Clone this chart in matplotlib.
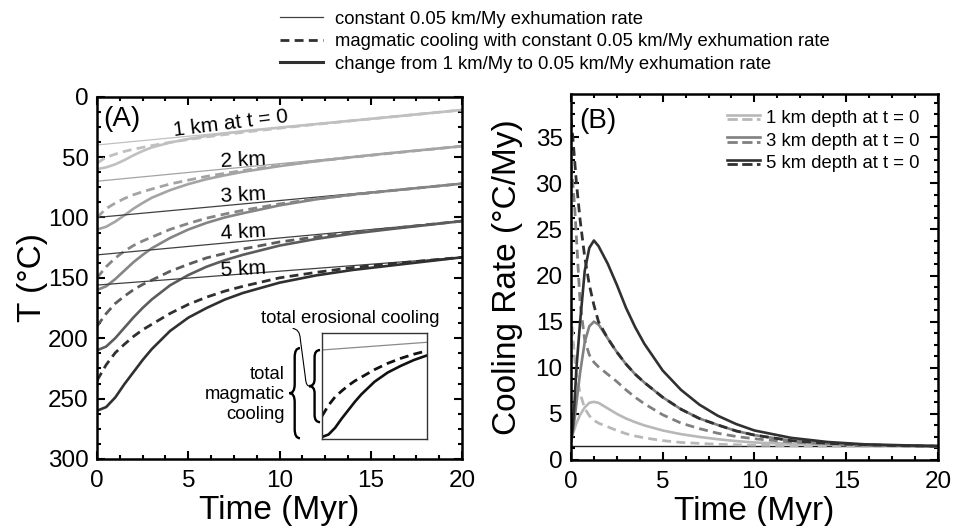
import matplotlib
matplotlib.use("Agg")
import matplotlib.pyplot as plt
from matplotlib.lines import Line2D
from matplotlib.path import Path
from matplotlib.patches import PathPatch
from matplotlib.ticker import MultipleLocator, AutoMinorLocator
from matplotlib.legend_handler import HandlerBase

plt.rcParams['font.family'] = ['Liberation Sans', 'DejaVu Sans']

# ---- panel A data: temperature (deg C) vs time (Myr) ----
t_thin = [0, 20]
thin = {1: [40, 11], 2: [70, 41], 3: [100, 72], 4: [131, 103], 5: [156, 133]}

t_a = [0, 0.5, 1, 1.5, 2, 2.5, 3, 4, 5, 6, 7, 8, 10, 12, 14, 16, 20]
solid = {
    1: [60, 58.5, 56, 52.5, 48.5, 45, 42, 38, 35, 32.5, 30.5, 28.6, 25.6, 22.7, 19.8, 16.9, 11],
    2: [110, 107.7, 103.4, 98.2, 92.7, 88, 83.7, 77.4, 72.4, 68.3, 65.1, 62.2, 57.5, 53.4, 50, 46.8, 41],
    3: [160, 157, 151, 144, 137, 131, 125.5, 117, 110, 104.5, 100, 96.5, 90, 85, 81, 78, 72],
    4: [210, 206.9, 199.9, 191.3, 182.7, 174.9, 167.9, 156.2, 147.7, 140.8, 135.4, 130.9, 123.3, 117.8, 113.4, 109.8, 103],
    5: [260, 257, 249, 238, 228, 218, 209, 194, 183, 175, 168, 162.5, 154, 148, 143.5, 140, 133],
}
dashed = {
    1: [55, 50.2, 47.6, 45.3, 43.5, 42, 40.5, 37.8, 35.5, 33.3, 31.4, 29.5, 26.1, 22.9, 19.9, 16.9, 11],
    2: [100, 92.7, 88.1, 84.3, 81.2, 78.7, 76.5, 72.3, 69.1, 66, 63.5, 61.1, 56.9, 53.4, 50.1, 47, 41],
    3: [150, 140.8, 133.6, 127.9, 123.2, 119.5, 116.3, 109.9, 105, 100.6, 97.2, 94.1, 88.8, 84.7, 81.2, 78, 72],
    4: [190, 179.6, 171.2, 165.2, 159.8, 155.5, 151.9, 144.6, 138.8, 133.5, 129.8, 126.1, 120.3, 116.1, 112.4, 109.2, 103],
    5: [235, 222, 212, 205, 198.5, 193, 188.5, 179.5, 172, 166, 161, 157, 150, 145.5, 141.5, 138.5, 133],
}
depth_colors = {1: '#c0c0c0', 2: '#a4a4a4', 3: '#858585', 4: '#5c5c5c', 5: '#303030'}
depth_labels = {1: '1 km at t = 0', 2: '2 km', 3: '3 km', 4: '4 km', 5: '5 km'}

# ---- panel B data: cooling rate (deg C/My) vs time (Myr) ----
t_b = [0, 0.1, 0.2, 0.3, 0.5, 0.75, 1, 1.25, 1.5, 2, 2.5, 3, 3.5, 4, 5, 6, 7, 8, 9, 10, 12, 14, 16, 18, 20]
rate_solid = {
    1: [2.3, 2.8, 3.4, 4, 4.9, 5.7, 6.2, 6.3, 6.2, 5.6, 5, 4.5, 4.1, 3.75, 3.2, 2.8, 2.5, 2.25, 2.05, 1.9, 1.75, 1.65, 1.6, 1.55, 1.5],
    3: [2, 3, 4.5, 6.2, 9.5, 12.8, 14.5, 15, 14.7, 13.2, 11.7, 10.4, 9.3, 8.4, 6.8, 5.5, 4.5, 3.8, 3.15, 2.7, 2.1, 1.8, 1.65, 1.55, 1.5],
    5: [2, 3.5, 6.5, 10, 15, 20.5, 23, 23.8, 23.2, 21.3, 19, 16.5, 14.4, 12.6, 9.7, 7.6, 6, 4.8, 3.9, 3.2, 2.4, 1.95, 1.7, 1.6, 1.5],
}
rate_dashed = {
    1: [16, 13.5, 11, 9.3, 7.2, 5.6, 4.8, 4.3, 4, 3.6, 3.2, 2.85, 2.6, 2.4, 2.1, 1.9, 1.8, 1.7, 1.65, 1.6, 1.55, 1.5, 1.5, 1.5, 1.5],
    3: [32, 30, 27.5, 24, 17, 13, 11.4, 10.6, 10.1, 9.3, 8.5, 7.6, 6.8, 6.1, 4.9, 4.0, 3.4, 2.9, 2.55, 2.3, 1.95, 1.75, 1.6, 1.55, 1.5],
    5: [37, 35, 32.5, 30, 26, 22, 19, 16.8, 15, 13.2, 11.7, 10.4, 9.3, 8.4, 6.8, 5.5, 4.5, 3.8, 3.15, 2.7, 2.1, 1.8, 1.65, 1.55, 1.5],
}
rate_const = 1.5
b_colors = {1: '#b8b8b8', 3: '#808080', 5: '#303030'}
b_labels = {1: '1 km depth at t = 0', 3: '3 km depth at t = 0', 5: '5 km depth at t = 0'}

DASH = (0, (3.2, 1.9))
FS = 13.3
LABEL_FS = 24


def style_axes(ax):
    ax.tick_params(which='both', direction='in', top=True, right=True, width=1.5, labelsize=17.5)
    ax.tick_params(axis='x', pad=8)
    ax.tick_params(axis='y', pad=6)
    ax.tick_params(which='major', length=6)
    ax.tick_params(which='minor', length=3)
    ax.xaxis.set_minor_locator(AutoMinorLocator(4))
    ax.yaxis.set_minor_locator(AutoMinorLocator(4))
    for s in ax.spines.values():
        s.set_linewidth(1.8)


def brace(ax, x_tip, x_end, y0, y1, lw=1.7):
    xm = (x_tip + x_end) / 2
    ym = (y0 + y1) / 2
    c = 0.1 * (y1 - y0)
    verts = [(x_end, y0), (xm, y0), (xm, y0 + c), (xm, ym - c),
             (xm, ym), (x_tip, ym), (xm, ym), (xm, ym + c),
             (xm, y1 - c), (xm, y1), (x_end, y1)]
    codes = [Path.MOVETO, Path.CURVE3, Path.CURVE3, Path.LINETO,
             Path.CURVE3, Path.CURVE3, Path.CURVE3, Path.CURVE3,
             Path.LINETO, Path.CURVE3, Path.CURVE3]
    ax.add_patch(PathPatch(Path(verts, codes), fill=False, lw=lw, color='k', clip_on=False))


class HandlerPair(HandlerBase):
    def create_artists(self, legend, orig_handle, xdescent, ydescent, width, height, fontsize, trans):
        out = []
        for i, h in enumerate(orig_handle):
            y = height / 2 - ydescent + (0.18 if i == 0 else -0.18) * height
            ln = Line2D([-xdescent, width - xdescent], [y, y], color=h.get_color(),
                        lw=h.get_linewidth(), linestyle=h.get_linestyle())
            ln.set_transform(trans)
            out.append(ln)
        return out


fig = plt.figure(figsize=(9.58, 5.26), dpi=100)
axA = fig.add_axes([0.1013, 0.1274, 0.381, 0.6888])
axB = fig.add_axes([0.596, 0.1255, 0.383, 0.696])

# ---------- panel A ----------
for d in [1, 2, 3, 4, 5]:
    c = depth_colors[d]
    axA.plot(t_thin, thin[d], color=c if d < 3 else '#404040', lw=0.9)
    axA.plot(t_a, dashed[d], color=c, lw=2, linestyle=DASH)
    axA.plot(t_a, solid[d], color=c, lw=1.9)

axA.set_xlim(0, 20)
axA.set_ylim(300, 0)
axA.xaxis.set_major_locator(MultipleLocator(5))
axA.yaxis.set_major_locator(MultipleLocator(50))
style_axes(axA)
axA.set_xlabel('Time (Myr)', fontsize=LABEL_FS, labelpad=2)
axA.set_ylabel('T (\u00b0C)', fontsize=LABEL_FS, labelpad=0)

axA.text(1.35, 18.5, '(A)', fontsize=20, ha='center', va='center')
axA.text(7.33, 22, depth_labels[1], fontsize=15, ha='center', va='center', rotation=7)
label_y = {2: 52.4, 3: 81.8, 4: 112.4, 5: 143.1}
for d in [2, 3, 4, 5]:
    axA.text(8.03, label_y[d], depth_labels[d], fontsize=15, ha='center', va='center', rotation=3)

axA.text(13.89, 183.5, 'total erosional cooling', fontsize=FS, ha='center', va='center')
axA.text(10.3, 246.6, 'total\nmagmatic\ncooling', fontsize=FS, ha='right', va='center',
         multialignment='right', linespacing=1.2)
brace(axA, 10.54, 11.12, 208.2, 282.8)
brace(axA, 11.62, 12.22, 209.8, 269.5)
lead = Path([(10.72, 191.9), (11.12, 192.5), (11.14, 201), (11.42, 233),
             (11.45, 239.5), (11.62, 239.6)],
            [Path.MOVETO, Path.CURVE3, Path.CURVE3, Path.LINETO, Path.CURVE3, Path.CURVE3])
axA.add_patch(PathPatch(lead, fill=False, lw=0.8, color='k'))

# inset sketch (5 km curves, zoomed)
axI = fig.add_axes([322 / 958, (526 - 439) / 526, 105 / 958, 106 / 526])
axI.plot(t_thin, thin[5], color='#8a8a8a', lw=0.9)
axI.plot(t_a, dashed[5], color='#111111', lw=2, linestyle=DASH)
axI.plot(t_a, solid[5], color='#111111', lw=1.9)
axI.set_xlim(0, 8)
axI.set_ylim(262.4, 135.7)
axI.set_xticks([])
axI.set_yticks([])
for s in axI.spines.values():
    s.set_linewidth(1.0)
    s.set_color('#333333')

# ---------- panel B ----------
axB.plot(t_thin, [rate_const, rate_const], color='#202020', lw=1.0)
b_handles = []
for d in [1, 3, 5]:
    c = b_colors[d]
    ls, = axB.plot(t_b, rate_solid[d], color=c, lw=1.9)
    ld, = axB.plot(t_b, rate_dashed[d], color=c, lw=2, linestyle=DASH)
    b_handles.append((ls, ld))

axB.set_xlim(0, 20)
axB.set_ylim(0, 39.7)
axB.xaxis.set_major_locator(MultipleLocator(5))
axB.yaxis.set_major_locator(MultipleLocator(5))
style_axes(axB)
axB.set_xlabel('Time (Myr)', fontsize=LABEL_FS, labelpad=2)
axB.set_ylabel('Cooling Rate (\u00b0C/My)', fontsize=LABEL_FS, labelpad=9)
axB.text(1.45, 36.8, '(B)', fontsize=20, ha='center', va='center')
axB.legend(b_handles, [b_labels[d] for d in [1, 3, 5]], handler_map={tuple: HandlerPair()},
           loc='upper right', bbox_to_anchor=(0.96, 0.965), frameon=False, fontsize=FS,
           handlelength=1.8, handletextpad=0.3, labelspacing=0.3, borderaxespad=0, borderpad=0.2)

# ---------- top legend ----------
top_handles = [Line2D([], [], color='#404040', lw=0.9),
               Line2D([], [], color='#303030', lw=2, linestyle=DASH),
               Line2D([], [], color='#303030', lw=2.2)]
top_labels = ['constant 0.05 km/My exhumation rate',
              'magmatic cooling with constant 0.05 km/My exhumation rate',
              'change from 1 km/My to 0.05 km/My exhumation rate']
fig.legend(top_handles, top_labels, loc='upper left', bbox_to_anchor=(0.2923, 0.98),
           frameon=False, fontsize=FS, handlelength=2.3, handletextpad=0.7,
           labelspacing=0.3, borderaxespad=0, borderpad=0)

fig.savefig('out.png', dpi=100)
